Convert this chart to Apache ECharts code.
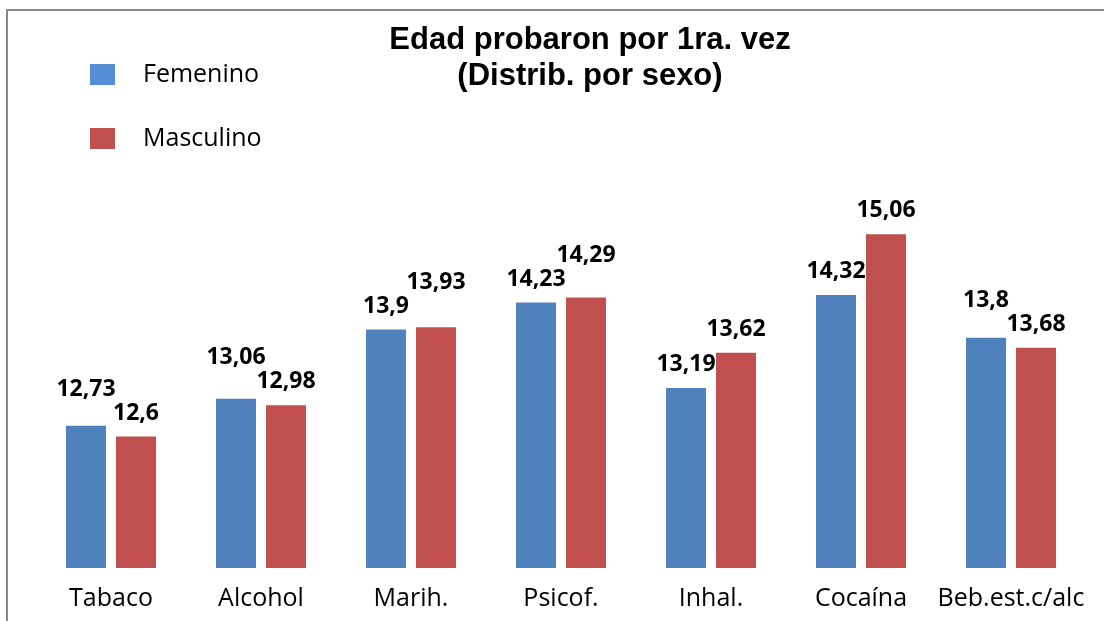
<!DOCTYPE html>
<html>
<head>
<meta charset="utf-8">
<script src="https://cdn.jsdelivr.net/npm/echarts@6/dist/echarts.min.js"></script>
<style>
  html, body { margin: 0; padding: 0; background: #fff; }
  #chart { width: 1104px; height: 621px; }
</style>
</head>
<body>
<div id="chart"></div>
<script>
// data
const categories = ['Tabaco', 'Alcohol', 'Marih.', 'Psicof.', 'Inhal.', 'Cocaína', 'Beb.est.c/alc'];
const femenino = [12.73, 13.06, 13.9, 14.23, 13.19, 14.32, 13.8];
const masculino = [12.6, 12.98, 13.93, 14.29, 13.62, 15.06, 13.68];

const Y_MIN = 11;
const LABEL_STEP = 24; // min vertical gap between the two labels of a group

const chart = echarts.init(document.getElementById('chart'));

const labelStyle = {
    show: true,
    position: 'top',
    distance: 12,
    fontFamily: 'Open Sans',
    fontWeight: 'bold',
    fontSize: 23,
    color: '#000',
    formatter: p => String(p.value).replace('.', ',')
};

// the higher label of a pair is lifted above the other one when they would collide
function liftLabel(params) {
    const i = params.dataIndex;
    const own = params.seriesIndex === 0 ? femenino[i] : masculino[i];
    const other = params.seriesIndex === 0 ? masculino[i] : femenino[i];
    if (own < other) return {};
    const pxPerUnit = params.rect.height / (own - Y_MIN);
    const gap = (own - other) * pxPerUnit;
    if (gap >= LABEL_STEP) return {};
    return { dy: -(LABEL_STEP - gap) };
}

const options = {
    backgroundColor: '#fff',
    animation: false,
    title: {
        text: 'Edad probaron por 1ra. vez\n(Distrib. por sexo)',
        left: 585,
        top: 17,
        textAlign: 'center',
        textStyle: {
            fontFamily: 'Liberation Sans',
            fontWeight: 'bold',
            fontSize: 31,
            lineHeight: 36,
            color: '#000'
        }
    },
    legend: {
        orient: 'vertical',
        left: 85,
        top: 57,
        itemWidth: 25,
        itemHeight: 21,
        itemGap: 39,
        icon: 'rect',
        textStyle: {
            fontFamily: 'Open Sans',
            fontSize: 25,
            color: '#000',
            padding: [3, 0, 0, 23]
        },
        data: [
            { name: 'Femenino', itemStyle: { color: '#558ED5' } },
            { name: 'Masculino', itemStyle: { color: '#C0504D' } }
        ]
    },
    grid: {
        left: 36,
        right: 18,
        top: 157,
        bottom: 53
    },
    xAxis: {
        type: 'category',
        data: categories,
        axisLine: { show: false },
        axisTick: { show: false },
        axisLabel: {
            interval: 0,
            margin: 18,
            fontFamily: 'Open Sans',
            fontSize: 25,
            color: '#000'
        }
    },
    yAxis: {
        type: 'value',
        min: Y_MIN,
        max: 16,
        show: false,
        splitLine: { show: false }
    },
    series: [
        {
            name: 'Femenino',
            type: 'bar',
            data: femenino,
            barWidth: 40,
            barGap: '25%',
            itemStyle: { color: '#4F81BD' },
            label: labelStyle,
            labelLayout: liftLabel
        },
        {
            name: 'Masculino',
            type: 'bar',
            data: masculino,
            barWidth: 40,
            itemStyle: { color: '#C0504D' },
            label: labelStyle,
            labelLayout: liftLabel
        }
    ],
    graphic: [
        { type: 'line', shape: { x1: 6, y1: 10, x2: 1104, y2: 10 }, style: { stroke: '#888', lineWidth: 2 } },
        { type: 'line', shape: { x1: 7, y1: 10, x2: 7, y2: 621 }, style: { stroke: '#888', lineWidth: 2 } }
    ]
};

chart.setOption(options);
</script>
</body>
</html>
